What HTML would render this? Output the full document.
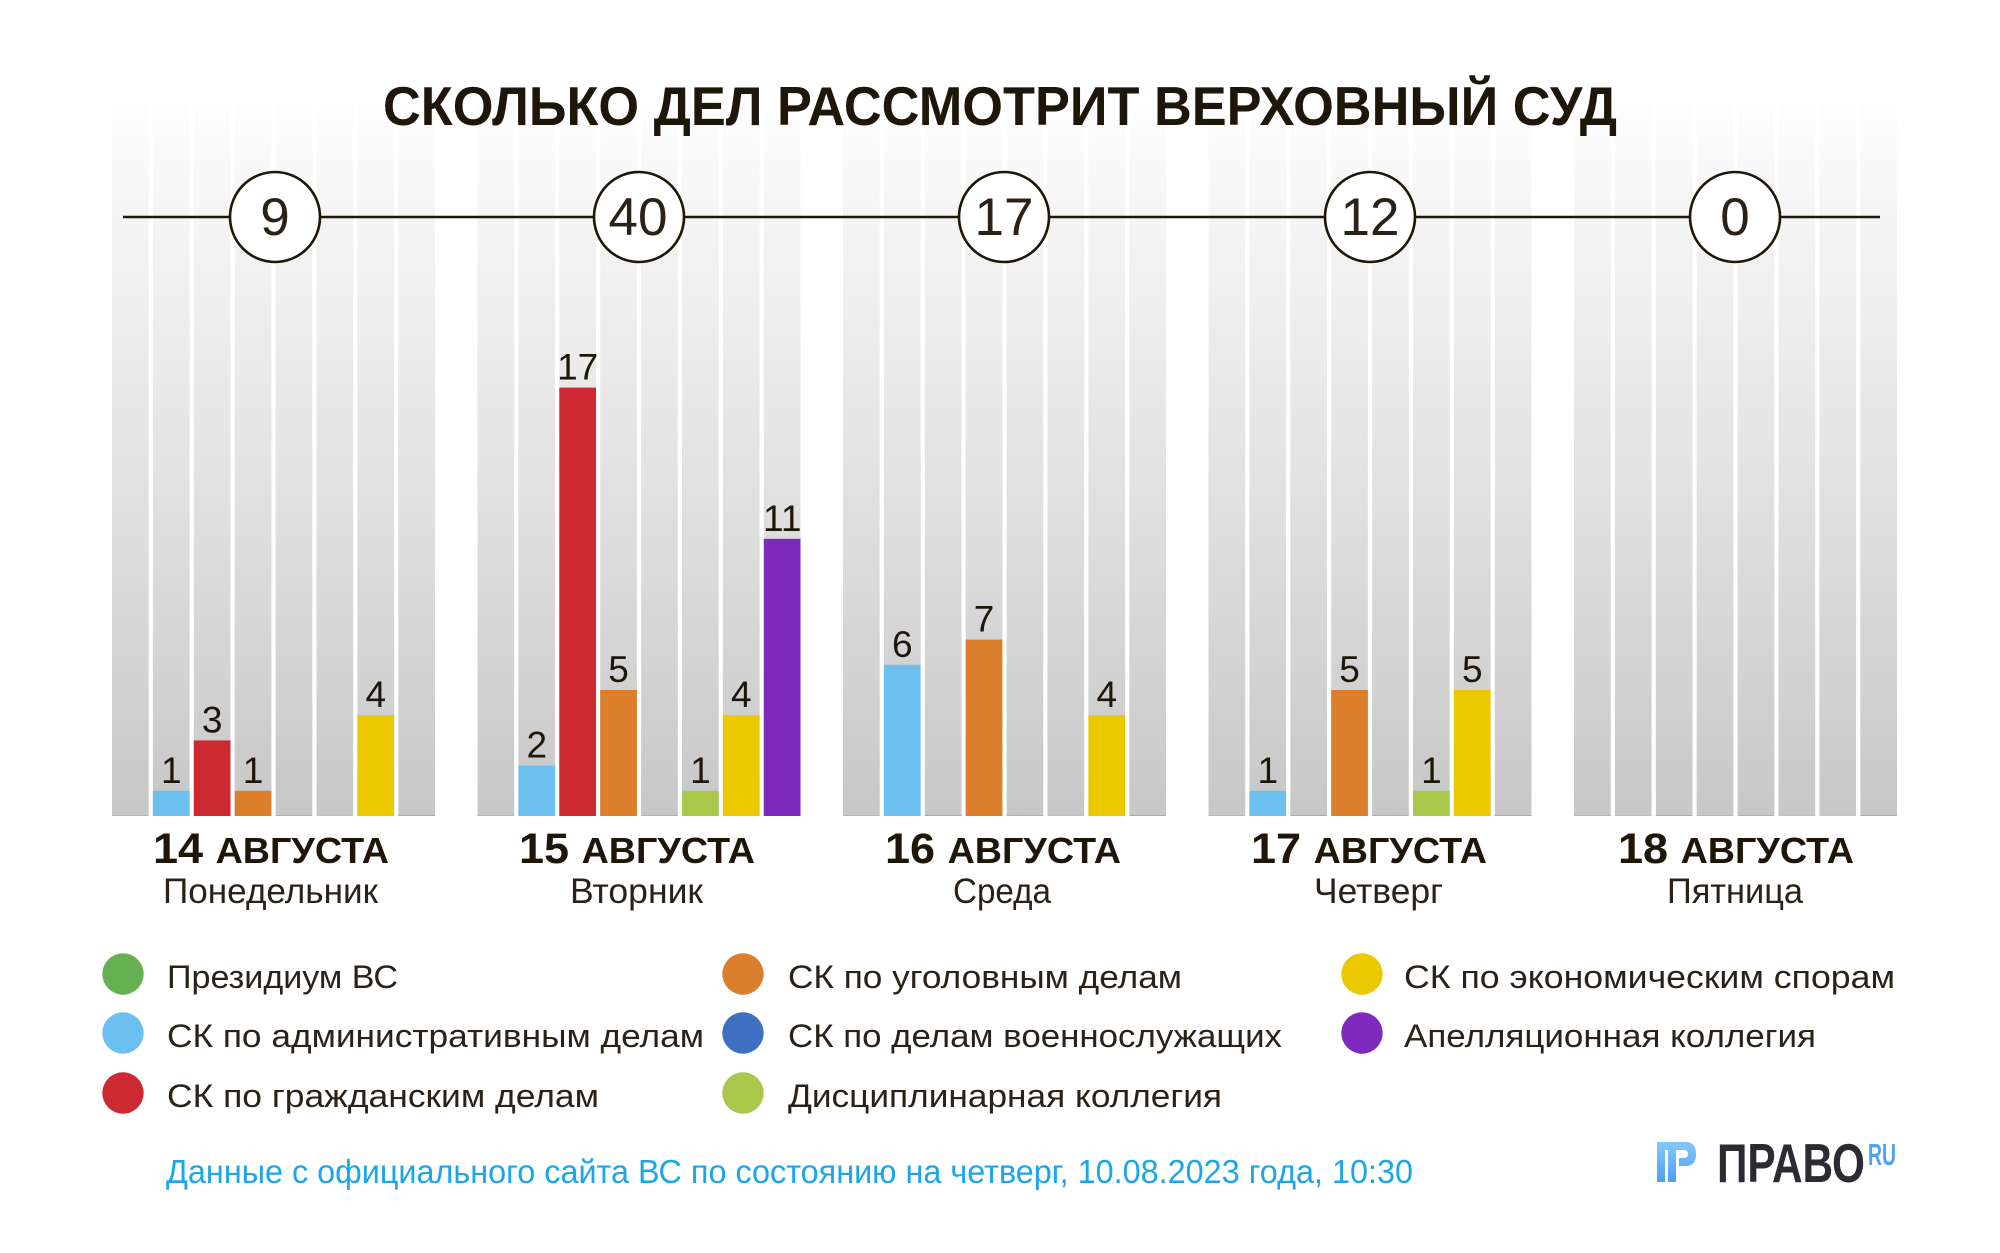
<!DOCTYPE html>
<html>
<head>
<meta charset="utf-8">
<style>
  html,body{margin:0;padding:0;background:#fff;}
  body{width:2000px;height:1253px;overflow:hidden;}
  svg{display:block;}
  .t{font-family:"Liberation Sans",sans-serif;fill:#1e1608;}
  .l{font-family:"Liberation Sans",sans-serif;fill:#2a2218;}
</style>
</head>
<body>
<svg width="2000" height="1253" viewBox="0 0 2000 1253" xmlns="http://www.w3.org/2000/svg">
  <defs>
    <linearGradient id="colg" x1="0" y1="88" x2="0" y2="816" gradientUnits="userSpaceOnUse">
      <stop offset="0" stop-color="#ffffff"/>
      <stop offset="0.15" stop-color="#f6f6f6"/>
      <stop offset="0.5" stop-color="#e4e4e4"/>
      <stop offset="1" stop-color="#c7c7c7"/>
    </linearGradient>
    <linearGradient id="logog" x1="0" y1="1142" x2="0" y2="1182" gradientUnits="userSpaceOnUse">
      <stop offset="0" stop-color="#86c8fa"/>
      <stop offset="1" stop-color="#4e9ff0"/>
    </linearGradient>
    <g id="grp">
      <rect x="0" y="88" width="36.7" height="728" fill="url(#colg)"/>
      <rect x="40.9" y="88" width="36.7" height="728" fill="url(#colg)"/>
      <rect x="81.8" y="88" width="36.7" height="728" fill="url(#colg)"/>
      <rect x="122.7" y="88" width="36.7" height="728" fill="url(#colg)"/>
      <rect x="163.6" y="88" width="36.7" height="728" fill="url(#colg)"/>
      <rect x="204.5" y="88" width="36.7" height="728" fill="url(#colg)"/>
      <rect x="245.4" y="88" width="36.7" height="728" fill="url(#colg)"/>
      <rect x="286.3" y="88" width="36.7" height="728" fill="url(#colg)"/>
      <rect x="0" y="815" width="36.7" height="1" fill="#67b052" opacity="0.3"/>
      <rect x="40.9" y="815" width="36.7" height="1" fill="#6cc0f0" opacity="0.3"/>
      <rect x="81.8" y="815" width="36.7" height="1" fill="#cc2930" opacity="0.25"/>
      <rect x="122.7" y="815" width="36.7" height="1" fill="#db7f2d" opacity="0.25"/>
      <rect x="163.6" y="815" width="36.7" height="1" fill="#3e6fc1" opacity="0.25"/>
      <rect x="204.5" y="815" width="36.7" height="1" fill="#a9c74a" opacity="0.25"/>
      <rect x="245.4" y="815" width="36.7" height="1" fill="#ebc800" opacity="0.25"/>
      <rect x="286.3" y="815" width="36.7" height="1" fill="#7e2abd" opacity="0.25"/>
    </g>
  </defs>

  <rect x="0" y="0" width="2000" height="1253" fill="#ffffff"/>

  <!-- background columns -->
  <use href="#grp" x="112" y="0"/>
  <use href="#grp" x="477.5" y="0"/>
  <use href="#grp" x="843" y="0"/>
  <use href="#grp" x="1208.5" y="0"/>
  <use href="#grp" x="1574" y="0"/>

  <!-- title -->
  <text class="t" x="383" y="125" font-size="55" font-weight="bold" textLength="1234" lengthAdjust="spacingAndGlyphs">СКОЛЬКО ДЕЛ РАССМОТРИТ ВЕРХОВНЫЙ СУД</text>

  <!-- timeline -->
  <line x1="123" y1="217" x2="1880" y2="217" stroke="#1e1608" stroke-width="2.6"/>
  <g fill="#ffffff" stroke="#1e1608" stroke-width="2.6">
    <circle cx="275" cy="217" r="45"/>
    <circle cx="639" cy="217" r="45"/>
    <circle cx="1004" cy="217" r="45"/>
    <circle cx="1370" cy="217" r="45"/>
    <circle cx="1735" cy="217" r="45"/>
  </g>
  <g font-size="53" text-anchor="middle">
    <text class="l" x="275" y="235">9</text>
    <text class="l" x="638" y="235">40</text>
    <text class="l" x="1004" y="235">17</text>
    <text class="l" x="1370" y="235">12</text>
    <text class="l" x="1735" y="235">0</text>
  </g>

  <!-- bars group 1 -->
  <rect x="152.9" y="790.8" width="36.7" height="25.2" fill="#6cc0f0"/>
  <rect x="193.8" y="740.4" width="36.7" height="75.6" fill="#cc2930"/>
  <rect x="234.7" y="790.8" width="36.7" height="25.2" fill="#db7f2d"/>
  <rect x="357.4" y="715.2" width="36.7" height="100.8" fill="#ebc800"/>
  <!-- bars group 2 -->
  <rect x="518.4" y="765.6" width="36.7" height="50.4" fill="#6cc0f0"/>
  <rect x="559.3" y="387.6" width="36.7" height="428.4" fill="#cc2930"/>
  <rect x="600.2" y="690" width="36.7" height="126" fill="#db7f2d"/>
  <rect x="682.0" y="790.8" width="36.7" height="25.2" fill="#a9c74a"/>
  <rect x="722.9" y="715.2" width="36.7" height="100.8" fill="#ebc800"/>
  <rect x="763.8" y="538.8" width="36.7" height="277.2" fill="#7e2abd"/>
  <!-- bars group 3 -->
  <rect x="883.9" y="664.8" width="36.7" height="151.2" fill="#6cc0f0"/>
  <rect x="965.7" y="639.6" width="36.7" height="176.4" fill="#db7f2d"/>
  <rect x="1088.4" y="715.2" width="36.7" height="100.8" fill="#ebc800"/>
  <!-- bars group 4 -->
  <rect x="1249.4" y="790.8" width="36.7" height="25.2" fill="#6cc0f0"/>
  <rect x="1331.2" y="690" width="36.7" height="126" fill="#db7f2d"/>
  <rect x="1413.0" y="790.8" width="36.7" height="25.2" fill="#a9c74a"/>
  <rect x="1453.9" y="690" width="36.7" height="126" fill="#ebc800"/>

  <!-- value labels -->
  <g font-size="37" text-anchor="middle">
    <text class="t" x="171.3" y="782.8">1</text>
    <text class="t" x="212.2" y="732.4">3</text>
    <text class="t" x="253.1" y="782.8">1</text>
    <text class="t" x="375.8" y="707.2">4</text>

    <text class="t" x="536.8" y="757.6">2</text>
    <text class="t" x="577.7" y="379.6">17</text>
    <text class="t" x="618.6" y="682">5</text>
    <text class="t" x="700.4" y="782.8">1</text>
    <text class="t" x="741.3" y="707.2">4</text>
    <text class="t" x="782.2" y="530.8">11</text>

    <text class="t" x="902.3" y="656.8">6</text>
    <text class="t" x="984.1" y="631.6">7</text>
    <text class="t" x="1106.8" y="707.2">4</text>

    <text class="t" x="1267.8" y="782.8">1</text>
    <text class="t" x="1349.6" y="682">5</text>
    <text class="t" x="1431.4" y="782.8">1</text>
    <text class="t" x="1472.3" y="682">5</text>
  </g>

  <!-- day labels -->
  <g font-weight="bold">
    <text class="t" x="153" y="863" textLength="236" lengthAdjust="spacingAndGlyphs"><tspan font-size="43">14 </tspan><tspan font-size="36">АВГУСТА</tspan></text>
    <text class="t" x="519" y="863" textLength="236" lengthAdjust="spacingAndGlyphs"><tspan font-size="43">15 </tspan><tspan font-size="36">АВГУСТА</tspan></text>
    <text class="t" x="885" y="863" textLength="236" lengthAdjust="spacingAndGlyphs"><tspan font-size="43">16 </tspan><tspan font-size="36">АВГУСТА</tspan></text>
    <text class="t" x="1251" y="863" textLength="236" lengthAdjust="spacingAndGlyphs"><tspan font-size="43">17 </tspan><tspan font-size="36">АВГУСТА</tspan></text>
    <text class="t" x="1618" y="863" textLength="236" lengthAdjust="spacingAndGlyphs"><tspan font-size="43">18 </tspan><tspan font-size="36">АВГУСТА</tspan></text>
  </g>
  <g font-size="35">
    <text class="l" x="163" y="903" textLength="215" lengthAdjust="spacingAndGlyphs">Понедельник</text>
    <text class="l" x="570" y="903" textLength="133" lengthAdjust="spacingAndGlyphs">Вторник</text>
    <text class="l" x="953" y="903" textLength="98" lengthAdjust="spacingAndGlyphs">Среда</text>
    <text class="l" x="1314" y="903" textLength="129" lengthAdjust="spacingAndGlyphs">Четверг</text>
    <text class="l" x="1667" y="903" textLength="136" lengthAdjust="spacingAndGlyphs">Пятница</text>
  </g>

  <!-- legend -->
  <circle cx="123" cy="974" r="20.7" fill="#67b052"/>
  <circle cx="123" cy="1033" r="20.7" fill="#6cc0f0"/>
  <circle cx="123" cy="1093" r="20.7" fill="#cc2930"/>
  <circle cx="743" cy="974" r="20.7" fill="#db7f2d"/>
  <circle cx="743" cy="1033" r="20.7" fill="#3e6fc1"/>
  <circle cx="743" cy="1093" r="20.7" fill="#a9c74a"/>
  <circle cx="1362" cy="974" r="20.7" fill="#ebc800"/>
  <circle cx="1362" cy="1033" r="20.7" fill="#7e2abd"/>
  <g font-size="32">
    <text class="l" x="167" y="988" textLength="231" lengthAdjust="spacingAndGlyphs">Президиум ВС</text>
    <text class="l" x="167" y="1047" textLength="537" lengthAdjust="spacingAndGlyphs">СК по административным делам</text>
    <text class="l" x="167" y="1107" textLength="432" lengthAdjust="spacingAndGlyphs">СК по гражданским делам</text>
    <text class="l" x="788" y="988" textLength="394" lengthAdjust="spacingAndGlyphs">СК по уголовным делам</text>
    <text class="l" x="788" y="1047" textLength="494" lengthAdjust="spacingAndGlyphs">СК по делам военнослужащих</text>
    <text class="l" x="788" y="1107" textLength="434" lengthAdjust="spacingAndGlyphs">Дисциплинарная коллегия</text>
    <text class="l" x="1404" y="988" textLength="491" lengthAdjust="spacingAndGlyphs">СК по экономическим спорам</text>
    <text class="l" x="1404" y="1047" textLength="412" lengthAdjust="spacingAndGlyphs">Апелляционная коллегия</text>
  </g>

  <!-- footer -->
  <text x="166" y="1183" font-family="Liberation Sans, sans-serif" font-size="33" fill="#1ba5ea" textLength="1247" lengthAdjust="spacingAndGlyphs">Данные с официального сайта ВС по состоянию на четверг, 10.08.2023 года, 10:30</text>

  <!-- logo -->
  <g fill="url(#logog)">
    <rect x="1657" y="1142" width="26" height="8"/>
    <rect x="1657" y="1150" width="8" height="32"/>
    <rect x="1668" y="1150" width="8" height="32"/>
    <path d="M1679 1142 L1686 1142 Q1696 1142 1696 1154 Q1696 1166 1686 1166 L1679 1166 L1679 1158 L1684 1158 Q1688 1158 1688 1154 Q1688 1150 1684 1150 L1679 1150 Z"/>
  </g>
  <text x="1717" y="1182" font-family="Liberation Sans, sans-serif" font-weight="bold" font-size="55" fill="#2b2b33" textLength="148" lengthAdjust="spacingAndGlyphs">ПРАВО</text>
  <text x="1868" y="1165" font-family="Liberation Sans, sans-serif" font-weight="bold" font-size="31" fill="#4fa3f0" textLength="28" lengthAdjust="spacingAndGlyphs">RU</text>
</svg>
</body>
</html>
